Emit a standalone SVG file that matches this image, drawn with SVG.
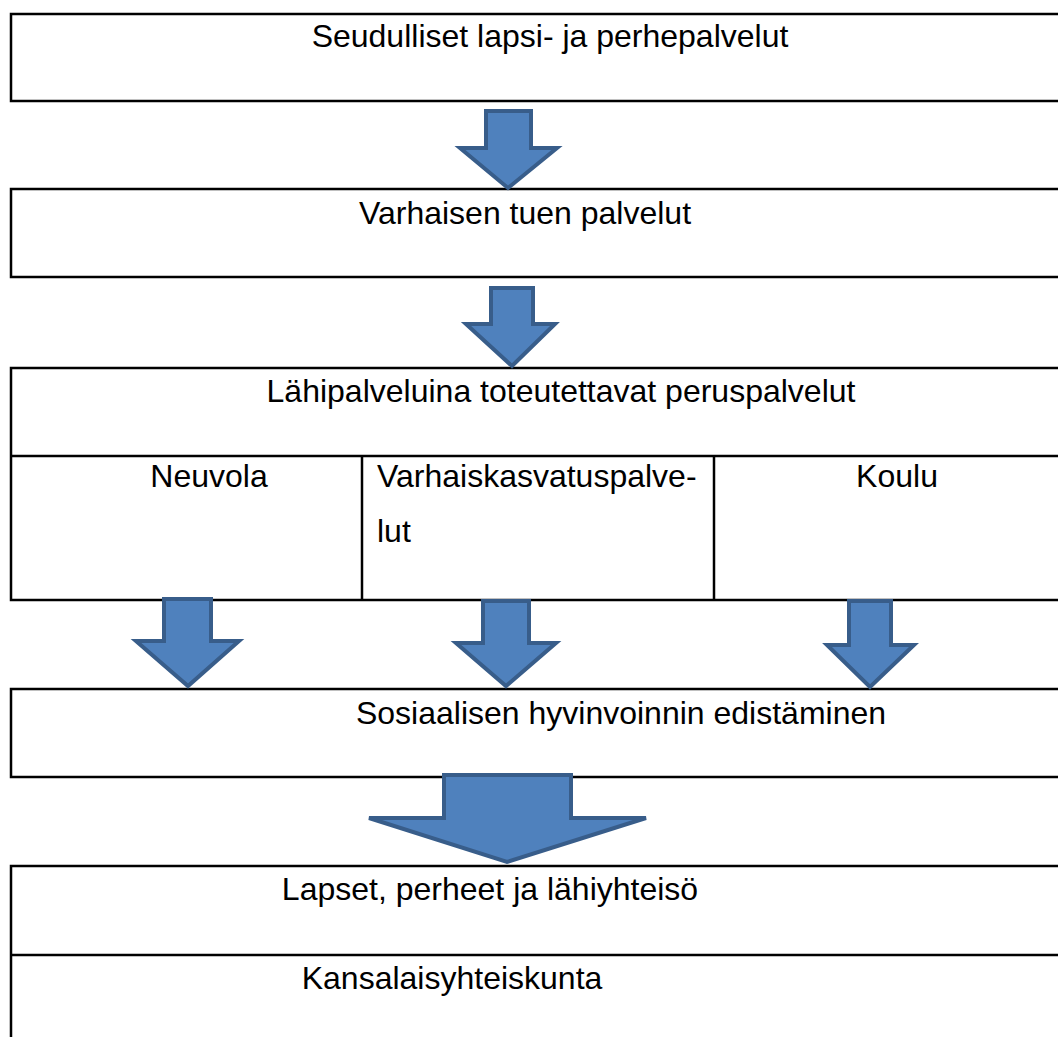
<svg xmlns="http://www.w3.org/2000/svg" width="1058" height="1037" viewBox="0 0 1058 1037">
<style>
.box{fill:#fff;stroke:#000;stroke-width:2.5}
.ln{stroke:#000;stroke-width:2.5;fill:none}
.t{font-family:"Liberation Sans",Arial,sans-serif;font-size:32px;fill:#000}
.arr{fill:#4F81BD;stroke:#385D8A;stroke-width:4;stroke-linejoin:miter}
</style>
<rect width="1058" height="1037" fill="#fff"/>
<g id="n1"><rect class="box" x="11" y="14" width="1070" height="87"/><text class="t" x="550" y="47" text-anchor="middle">Seudulliset lapsi- ja perhepalvelut</text></g>
<g id="n2"><rect class="box" x="11" y="189" width="1070" height="88"/><text class="t" x="525" y="224" text-anchor="middle">Varhaisen tuen palvelut</text></g>
<g id="n3"><rect class="box" x="11" y="368" width="1070" height="232"/><line class="ln" x1="11" y1="456" x2="1070" y2="456"/><line class="ln" x1="362" y1="456" x2="362" y2="600"/><line class="ln" x1="714" y1="456" x2="714" y2="600"/><text class="t" x="561" y="402" text-anchor="middle">Lähipalveluina toteutettavat peruspalvelut</text></g>
<g id="n3a"><text class="t" x="209" y="487" text-anchor="middle">Neuvola</text></g>
<g id="n3b"><text class="t" x="377" y="487">Varhaiskasvatuspalve-</text><text class="t" x="377" y="542">lut</text></g>
<g id="n3c"><text class="t" x="897" y="487" text-anchor="middle">Koulu</text></g>
<g id="n4"><rect class="box" x="11" y="689" width="1070" height="88"/><text class="t" x="621" y="724" text-anchor="middle">Sosiaalisen hyvinvoinnin edistäminen</text></g>
<g id="n5"><path class="ln" d="M11 1040 V866 H1070 M11 955 H1070"/><text class="t" x="490" y="900" text-anchor="middle">Lapset, perheet ja lähiyhteisö</text></g>
<g id="n6"><text class="t" x="452" y="989" text-anchor="middle">Kansalaisyhteiskunta</text></g>
<g id="connectors">
<polygon class="arr" points="486,111 531,111 531,148 557,148 508,188 460,148 486,148"/>
<polygon class="arr" points="491,288 533,288 533,324 555,324 512,366 466,324 491,324"/>
<polygon class="arr" points="164,599 211,599 211,641 239,641 188,686 136,641 164,641"/>
<polygon class="arr" points="483,601 529,601 529,643 556,643 506,686 456,643 483,643"/>
<polygon class="arr" points="849,601 891,601 891,645 914,645 870,687 827,645 849,645"/>
<polygon class="arr" points="444,775 571,775 571,818 646,818 507,862 369,818 444,818"/>
</g>
</svg>
